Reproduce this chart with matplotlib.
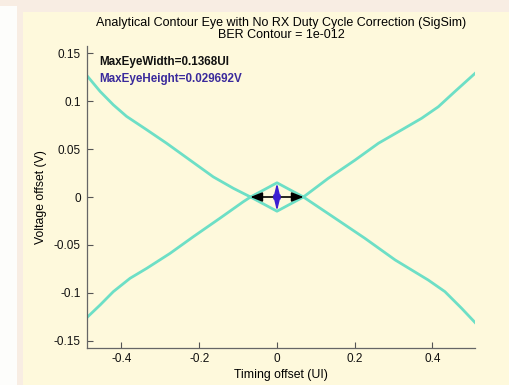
import matplotlib
matplotlib.use('Agg')
import matplotlib.pyplot as plt
from matplotlib.patches import Rectangle

plt.rcParams['font.family'] = ['Liberation Sans', 'DejaVu Sans']

# contour branch that falls from the top left, forms the eye floor, rises to the top right
upper_x = [-0.49, -0.455, -0.421, -0.387, -0.335, -0.284, -0.224, -0.164, -0.112, -0.068,
           0.0, 0.068, 0.132, 0.201, 0.261, 0.321, 0.372, 0.415, 0.458, 0.51]
upper_y = [0.127, 0.110, 0.096, 0.084, 0.070, 0.056, 0.0385, 0.021, 0.009, 0.0,
           -0.0148, 0.0, 0.0195, 0.0385, 0.056, 0.070, 0.082, 0.094, 0.110, 0.129]

# contour branch that rises from the bottom left, forms the eye roof, falls to the bottom right
lower_x = [-0.49, -0.455, -0.421, -0.378, -0.335, -0.275, -0.215, -0.147, -0.087, -0.068,
           0.0, 0.068, 0.149, 0.226, 0.304, 0.389, 0.432, 0.475, 0.51]
lower_y = [-0.126, -0.1125, -0.0986, -0.0847, -0.0743, -0.0587, -0.0413, -0.0222, -0.005, 0.0,
           0.0148, 0.0, -0.022, -0.043, -0.0656, -0.0865, -0.0986, -0.116, -0.131]

eye_width = 0.1368
eye_height = 0.029692
eye_center = 0.0

xticks = [-0.4, -0.2, 0, 0.2, 0.4]
yticks = [-0.15, -0.1, -0.05, 0, 0.05, 0.1, 0.15]

fig = plt.figure(figsize=(5.09, 3.85), dpi=100)
fig.patch.set_facecolor('#f8ede3')
# white panel on the left, cream plotting panel on the right
fig.patches.append(Rectangle((0, 0), 17 / 509, 1 - 6 / 385, transform=fig.transFigure,
                             facecolor='#fdfdfb', edgecolor='none', zorder=-2))
fig.patches.append(Rectangle((23 / 509, 0), 1 - 23 / 509, 1 - 12 / 385, transform=fig.transFigure,
                             facecolor='#fef9dc', edgecolor='none', zorder=-2))

ax = fig.add_axes([86.5 / 509, 1 - 347.7 / 385, 388.75 / 509, 301.4 / 385])
ax.set_facecolor('none')

ax.plot(upper_x, upper_y, color='#6ddfc6', lw=2.0, zorder=2)
ax.plot(lower_x, lower_y, color='#6ddfc6', lw=2.0, zorder=2)

# eye width / height arrows
ax.annotate('', xy=(eye_center - eye_width / 2, 0), xytext=(eye_center + eye_width / 2, 0),
            arrowprops=dict(arrowstyle='<|-|>,head_length=0.7,head_width=0.28',
                            color='black', lw=1.2, shrinkA=0, shrinkB=0), zorder=3)
ax.annotate('', xy=(eye_center, eye_height / 2), xytext=(eye_center, -eye_height / 2),
            arrowprops=dict(arrowstyle='<|-|>,head_length=0.9,head_width=0.22',
                            color='#3b1fd2', lw=1.2, shrinkA=0, shrinkB=0), zorder=4)

ax.text(-0.458, 0.141, 'MaxEyeWidth=%gUI' % eye_width, fontsize=8.4, fontweight='bold',
        color='#111111', va='center')
ax.text(-0.458, 0.123, 'MaxEyeHeight=%gV' % eye_height, fontsize=8.4, fontweight='bold',
        color='#3a2a9c', va='center')

ax.set_xlim(-0.49, 0.51)
ax.set_ylim(-0.157, 0.157)
ax.set_xticks(xticks)
ax.set_yticks(yticks)
ax.set_xticklabels(['%g' % t for t in xticks])
ax.set_yticklabels(['%g' % t for t in yticks])
ax.tick_params(direction='in', length=4, width=0.8, color='#555555', labelsize=8.5,
               labelcolor='#111111', pad=4)
for side in ['top', 'right']:
    ax.spines[side].set_visible(False)
for side in ['left', 'bottom']:
    ax.spines[side].set_color('#666666')
    ax.spines[side].set_linewidth(0.9)

ax.set_xlabel('Timing offset (UI)', fontsize=8.8, labelpad=3)
ax.set_ylabel('Voltage offset (V)', fontsize=8.8, labelpad=5)
ax.set_title('Analytical Contour Eye with No RX Duty Cycle Correction (SigSim)\nBER Contour = 1e-012',
             fontsize=9, linespacing=1.0, pad=6)

fig.savefig('out.png', dpi=100, facecolor=fig.get_facecolor())
